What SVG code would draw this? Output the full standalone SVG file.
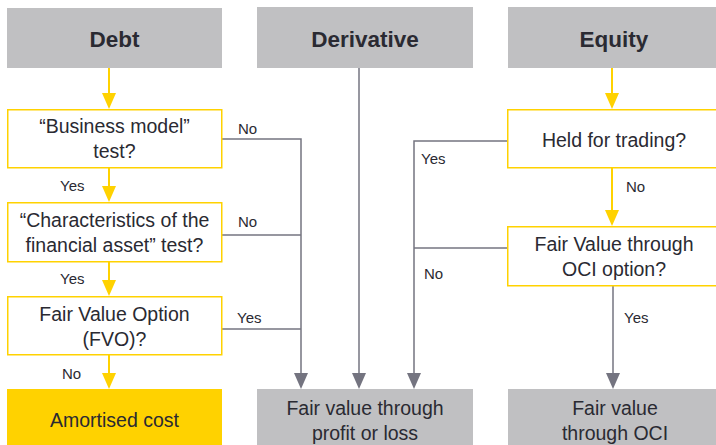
<svg xmlns="http://www.w3.org/2000/svg" width="716" height="445" viewBox="0 0 716 445">
  <style>
    .hdr { fill: #c0c0c2; }
    .q { fill: #ffffff; stroke: #ffd200; stroke-width: 1.5; }
    .res { fill: #c0c0c2; }
    .amort { fill: #ffd200; }
    text { font-family: "Liberation Sans", Arial, sans-serif; fill: #2a2a32; text-anchor: middle; }
    .ht { font-size: 22.5px; font-weight: bold; }
    .bt { font-size: 19.5px; }
    .lbl { font-size: 15px; text-anchor: start; }
    .ylw { stroke: #ffd200; stroke-width: 2; fill: none; }
    .gry { stroke: #747480; stroke-width: 1.5; fill: none; }
    .tipY { fill: #ffd200; }
    .tipG { fill: #747480; }
  </style>

  <!-- connectors -->
  <g id="connectors">
    <!-- debt flow -->
    <line class="ylw" x1="109" y1="68" x2="109" y2="93"/>
    <path class="tipY" d="M102,93 L116,93 L109,109 Z"/>
    <line class="ylw" x1="109" y1="168" x2="109" y2="186"/>
    <path class="tipY" d="M102,186 L116,186 L109,202 Z"/>
    <line class="ylw" x1="109" y1="262" x2="109" y2="280"/>
    <path class="tipY" d="M102,280 L116,280 L109,296 Z"/>
    <line class="ylw" x1="109" y1="355" x2="109" y2="373"/>
    <path class="tipY" d="M102,373 L116,373 L109,389 Z"/>

    <!-- equity flow -->
    <line class="ylw" x1="612" y1="68" x2="612" y2="93"/>
    <path class="tipY" d="M605,93 L619,93 L612,109 Z"/>
    <line class="ylw" x1="612" y1="168" x2="612" y2="210"/>
    <path class="tipY" d="M605,210 L619,210 L612,226 Z"/>

    <!-- debt to FVTPL -->
    <polyline class="gry" points="222,139 301,139 301,373"/>
    <line class="gry" x1="222" y1="235" x2="301" y2="235"/>
    <line class="gry" x1="222" y1="329" x2="301" y2="329"/>
    <path class="tipG" d="M294,373 L308,373 L301,389 Z"/>

    <!-- derivative to FVTPL -->
    <line class="gry" x1="359" y1="68" x2="359" y2="373"/>
    <path class="tipG" d="M352,373 L366,373 L359,389 Z"/>

    <!-- equity to FVTPL -->
    <polyline class="gry" points="507,141 414,141 414,373"/>
    <line class="gry" x1="507" y1="248" x2="414" y2="248"/>
    <path class="tipG" d="M407,373 L421,373 L414,389 Z"/>

    <!-- equity to FVOCI -->
    <line class="gry" x1="613" y1="286" x2="613" y2="373"/>
    <path class="tipG" d="M606,373 L620,373 L613,389 Z"/>

    <!-- labels -->
    <text class="lbl" x="238" y="134">No</text>
    <text class="lbl" x="60" y="191">Yes</text>
    <text class="lbl" x="238" y="227">No</text>
    <text class="lbl" x="60" y="284">Yes</text>
    <text class="lbl" x="237" y="323">Yes</text>
    <text class="lbl" x="62" y="379">No</text>
    <text class="lbl" x="421" y="164">Yes</text>
    <text class="lbl" x="424" y="279">No</text>
    <text class="lbl" x="626" y="192">No</text>
    <text class="lbl" x="624" y="323">Yes</text>
  </g>

  <!-- column headers -->
  <g id="debt">
    <rect class="hdr" x="7" y="8" width="215" height="60"/>
    <text class="ht" x="114.5" y="47">Debt</text>
  </g>
  <g id="derivative">
    <rect class="hdr" x="257" y="7" width="216" height="61"/>
    <text class="ht" x="365" y="47">Derivative</text>
  </g>
  <g id="equity">
    <rect class="hdr" x="508" y="7" width="215" height="61"/>
    <text class="ht" x="614" y="47">Equity</text>
  </g>

  <!-- debt questions -->
  <g id="business-model">
    <rect class="q" x="7.75" y="109.75" width="214" height="58"/>
    <text class="bt" x="114.5" y="133">“Business model”</text>
    <text class="bt" x="114.5" y="158">test?</text>
  </g>
  <g id="characteristics">
    <rect class="q" x="7.75" y="202.75" width="214" height="59"/>
    <text class="bt" x="114.5" y="227">“Characteristics of the</text>
    <text class="bt" x="114.5" y="252">financial asset” test?</text>
  </g>
  <g id="fvo">
    <rect class="q" x="7.75" y="296.75" width="214" height="58"/>
    <text class="bt" x="114.5" y="321">Fair Value Option</text>
    <text class="bt" x="114.5" y="346">(FVO)?</text>
  </g>

  <!-- equity questions -->
  <g id="held-for-trading">
    <rect class="q" x="507.75" y="109.75" width="215" height="58"/>
    <text class="bt" x="614" y="147">Held for trading?</text>
  </g>
  <g id="oci-option">
    <rect class="q" x="507.75" y="226.75" width="215" height="59"/>
    <text class="bt" x="614" y="251">Fair Value through</text>
    <text class="bt" x="614" y="276">OCI option?</text>
  </g>

  <!-- outcomes -->
  <g id="amortised-cost">
    <rect class="amort" x="7" y="389" width="215" height="60"/>
    <text class="bt" x="114.5" y="427">Amortised cost</text>
  </g>
  <g id="fvtpl">
    <rect class="res" x="257" y="389" width="216" height="60"/>
    <text class="bt" x="365" y="415">Fair value through</text>
    <text class="bt" x="365" y="440">profit or loss</text>
  </g>
  <g id="fvoci">
    <rect class="res" x="508" y="389" width="215" height="60"/>
    <text class="bt" x="615" y="415">Fair value</text>
    <text class="bt" x="615" y="440">through OCI</text>
  </g>
</svg>
